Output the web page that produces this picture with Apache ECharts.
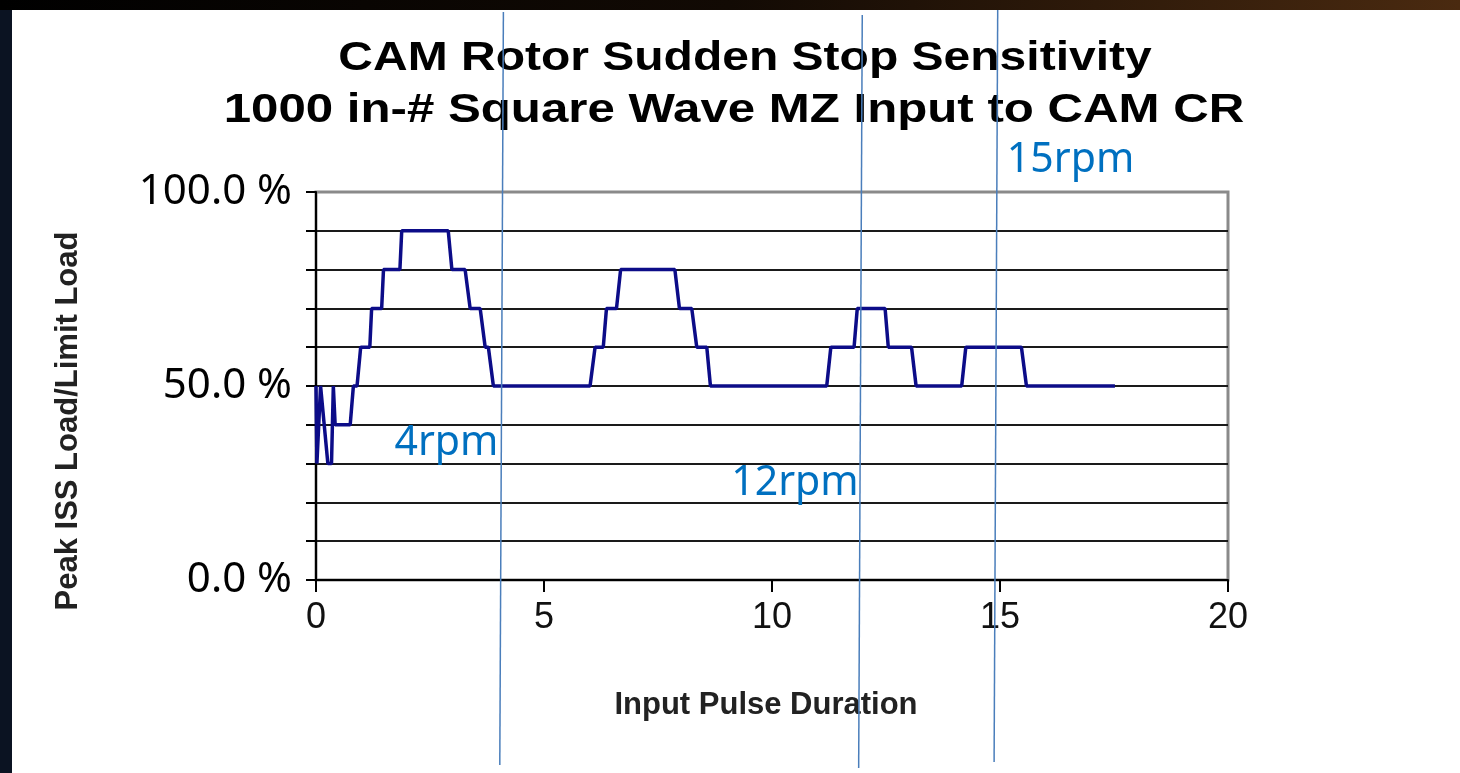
<!DOCTYPE html>
<html>
<head>
<meta charset="utf-8">
<script src="https://cdn.jsdelivr.net/npm/echarts/dist/echarts.min.js"></script>
<style>
  html, body { margin: 0; padding: 0; background: #fff; }
  #chart { width: 1460px; height: 773px; }
</style>
</head>
<body>
<div id="chart"></div>
<script>
// pulse duration (x) and peak load in % of limit load (y)
const durations = [0, 0.02, 0.1, 0.26, 0.34, 0.38, 0.42, 0.75, 0.82, 0.9, 0.98, 1.18, 1.22, 1.44, 1.48, 1.84, 1.88, 2.9, 2.98, 3.27, 3.38, 3.6, 3.71, 3.78, 3.89,
  6.01, 6.12, 6.3, 6.37, 6.59, 6.68, 7.87, 7.97, 8.24, 8.35, 8.57, 8.65,
  11.2, 11.29, 11.8, 11.87, 12.48, 12.55, 13.06, 13.16, 14.16, 14.25, 15.47, 15.58, 17.52];
const loads = [50, 30, 50, 30, 30, 50, 40, 40, 50, 50, 60, 60, 70, 70, 80, 80, 90, 90, 80, 80, 70, 70, 60, 60, 50,
  50, 60, 60, 70, 70, 80, 80, 70, 70, 60, 60, 50,
  50, 60, 60, 70, 70, 60, 60, 50, 50, 60, 60, 50, 50];

const xTicks = [0, 5, 10, 15, 20];
const yLabelValues = [0, 50, 100];

const titleLines = ['CAM Rotor Sudden Stop Sensitivity', '1000 in-# Square Wave MZ Input to CAM CR'];

// rpm markers drawn over the slide
const rpmNames = ['4rpm', '12rpm', '15rpm'];
const rpmAt = [4.07, 11.94, 14.91];

const chart = echarts.init(document.getElementById('chart'));

chart.setOption({
  animation: false,
  backgroundColor: '#fff',
  grid: {
    left: 316, right: 232, top: 192, bottom: 193,
    show: true, borderColor: '#8a8a8a', borderWidth: 3, backgroundColor: 'transparent'
  },
  xAxis: {
    type: 'value', min: 0, max: 20, interval: 5,
    name: 'Input Pulse Duration', nameLocation: 'middle', nameGap: 110,
    nameTextStyle: {fontFamily: 'Liberation Sans', fontWeight: 'bold', fontSize: 31, color: '#222', padding: [0, 12, 0, 0]},
    axisLine: {show: true, lineStyle: {color: '#000', width: 2}},
    axisTick: {show: true, length: 12, lineStyle: {color: '#000', width: 2}},
    axisLabel: {
      margin: 20, fontFamily: 'Liberation Sans', fontSize: 36, color: '#111',
      formatter: v => xTicks.includes(v) ? String(v) : ''
    },
    splitLine: {show: false}
  },
  yAxis: {
    type: 'value', min: 0, max: 100, interval: 10,
    axisLine: {show: true, lineStyle: {color: '#000', width: 2}},
    axisTick: {show: true, length: 10, lineStyle: {color: '#000', width: 2}},
    axisLabel: {
      margin: 24, fontFamily: 'Noto Sans', fontSize: 42, color: '#000',
      formatter: v => yLabelValues.includes(v) ? v.toFixed(1) + ' %' : ''
    },
    splitLine: {show: true, showMinLine: false, showMaxLine: false, lineStyle: {color: '#1a1a1a', width: 2}}
  },
  series: [
    {
      type: 'line',
      data: durations.map((d, i) => [d, loads[i]]),
      showSymbol: false,
      lineStyle: {color: '#0c0c88', width: 3.5},
      z: 5
    }
  ]
});

// slide decorations + rpm annotations, positioned from axis values
const graphics = [
  {type: 'rect', shape: {x: 0, y: 0, width: 12, height: 773}, style: {fill: '#0b1322'}, z: 100},
  {
    type: 'rect', shape: {x: 0, y: 0, width: 1460, height: 10}, z: 100,
    style: {
      fill: new echarts.graphic.LinearGradient(0, 0, 1, 0, [
        {offset: 0, color: '#000'}, {offset: 0.5, color: '#120a04'}, {offset: 1, color: '#4a2a10'}
      ])
    }
  },
  // title is stretched horizontally on the slide
  {
    type: 'text', x: 745, y: 59, scaleX: 1.2, z: 40,
    style: {text: titleLines[0], font: 'bold 40px "Liberation Sans"', fill: '#000', align: 'center', verticalAlign: 'middle'}
  },
  {
    type: 'text', x: 734, y: 111, scaleX: 1.23, z: 40,
    style: {text: titleLines[1], font: 'bold 40px "Liberation Sans"', fill: '#000', align: 'center', verticalAlign: 'middle'}
  },
  {
    type: 'text', x: 68, y: 421, rotation: Math.PI / 2, z: 40,
    style: {text: 'Peak ISS Load/Limit Load', font: 'bold 31px "Liberation Sans"', fill: '#222', align: 'center', verticalAlign: 'middle'}
  }
];
const lineTops = [12, 15, 10];
const lineBottoms = [765, 768, 762];
rpmAt.forEach((xv, i) => {
  const px = chart.convertToPixel({xAxisIndex: 0}, xv);
  graphics.push({
    type: 'line', z: 50,
    shape: {x1: px + 1.8, y1: lineTops[i], x2: px - 1.8, y2: lineBottoms[i]},
    style: {stroke: '#4a7ebb', lineWidth: 1.5}
  });
});
// label anchors in data space (x, load %)
const rpmLabelPos = [[4.0, 35.3], [11.9, 25], [15.15, 108.2]];
const rpmAlign = ['right', 'right', 'left'];
rpmNames.forEach((name, i) => {
  const p = chart.convertToPixel({gridIndex: 0}, rpmLabelPos[i]);
  graphics.push({
    type: 'text', z: 60, x: p[0], y: p[1],
    style: {
      text: name, fill: '#0070c0', font: '41px "Noto Sans"',
      align: rpmAlign[i], verticalAlign: 'middle'
    }
  });
});
chart.setOption({graphic: graphics});
</script>
</body>
</html>
